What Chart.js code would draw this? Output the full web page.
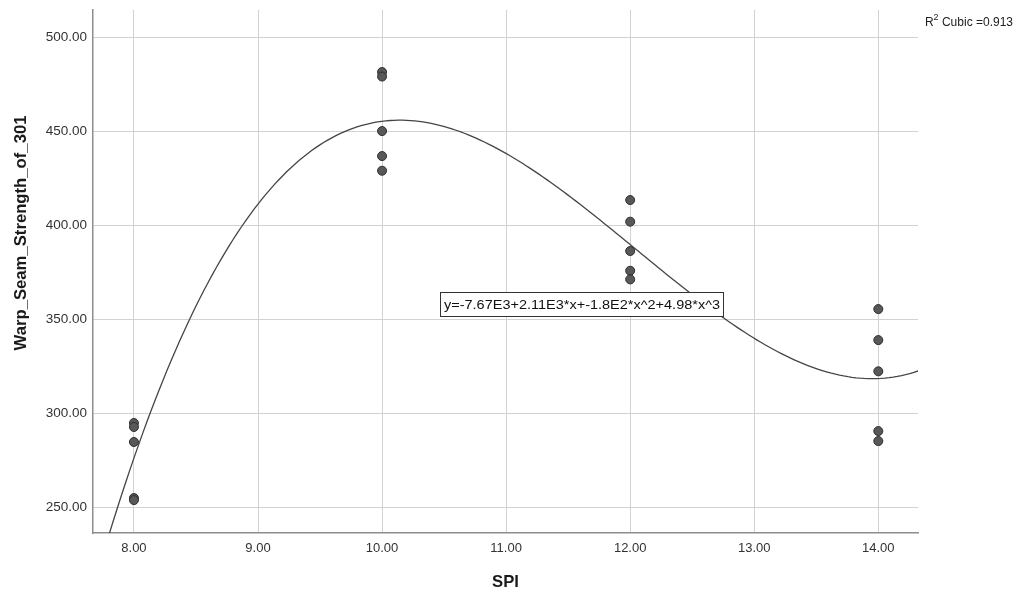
<!DOCTYPE html>
<html>
<head>
<meta charset="utf-8">
<script src="https://cdn.jsdelivr.net/npm/chart.js@4.4.1/dist/chart.umd.min.js"></script>
<style>
  html, body { margin: 0; padding: 0; background: #fff; }
  #wrap { position: relative; width: 1020px; height: 597px; }
</style>
</head>
<body>
<div id="wrap"><canvas id="fitChart" width="1020" height="597"></canvas></div>
<script>
/* SPI vs warp seam strength — scatter with cubic fit */

const xTicks = [8, 9, 10, 11, 12, 13, 14];
const yTicks = [250, 300, 350, 400, 450, 500];

const spi = [8, 8, 8, 8, 8, 10, 10, 10, 10, 10, 12, 12, 12, 12, 12, 14, 14, 14, 14, 14];
const strength = [
  294.7, 292.6, 284.6, 254.8, 253.7,
  481.4, 479.0, 450.0, 436.7, 428.9,
  413.3, 401.8, 386.2, 375.7, 371.1,
  355.3, 338.8, 322.2, 290.4, 285.1,
];

const EQ_TEXT = "y=-7.67E3+2.11E3*x+-1.8E2*x^2+4.98*x^3";
const FONT = "'Liberation Sans', Arial, sans-serif";

// least squares cubic through the observed points (what the fit line shows)
function cubicFit(xs, ys) {
  const c = 11;
  const n = 4;
  const A = Array.from({ length: n }, () => new Array(n + 1).fill(0));
  xs.forEach((x0, k) => {
    const x = x0 - c;
    const pw = [1, x, x * x, x * x * x];
    for (let i = 0; i < n; i++) {
      for (let j = 0; j < n; j++) A[i][j] += pw[i] * pw[j];
      A[i][n] += pw[i] * ys[k];
    }
  });
  for (let i = 0; i < n; i++) {
    let p = i;
    for (let r = i + 1; r < n; r++) if (Math.abs(A[r][i]) > Math.abs(A[p][i])) p = r;
    [A[i], A[p]] = [A[p], A[i]];
    for (let r = 0; r < n; r++) {
      if (r === i) continue;
      const f = A[r][i] / A[i][i];
      for (let j = i; j <= n; j++) A[r][j] -= f * A[i][j];
    }
  }
  const b = A.map((row, i) => row[n] / row[i]);
  return (x) => {
    const t = x - c;
    return b[0] + b[1] * t + b[2] * t * t + b[3] * t * t * t;
  };
}

const X_MIN = 7.67, X_MAX = 14.32;
const Y_MIN = 236.2, Y_MAX = 514.4;

const fit = cubicFit(spi, strength);
const fitLine = [];
for (let i = 0; i <= 200; i++) {
  const x = X_MIN + (X_MAX - X_MIN) * i / 200;
  fitLine.push({ x, y: fit(x) });
}

const decorations = {
  id: "decorations",
  afterDatasetsDraw(chart) {
    const { ctx, scales } = chart;
    ctx.save();

    // equation label (SPSS draws it a bit wide, so stretch to its box)
    ctx.font = "13px " + FONT;
    const natural = ctx.measureText(EQ_TEXT).width;
    const textW = 276;
    const bx = Math.round(scales.x.getPixelForValue(10.47)) + 0.5;
    const cy = scales.y.getPixelForValue(358);
    const by = Math.round(cy - 12) + 0.5;
    ctx.fillStyle = "#fff";
    ctx.fillRect(bx, by, textW + 7, 24);
    ctx.strokeStyle = "#333";
    ctx.lineWidth = 1;
    ctx.strokeRect(bx, by, textW + 7, 24);
    ctx.fillStyle = "#111";
    ctx.textBaseline = "middle";
    ctx.save();
    ctx.translate(bx + 3.5, cy + 1);
    ctx.scale(textW / natural, 1);
    ctx.fillText(EQ_TEXT, 0, 0);
    ctx.restore();

    // axis titles
    ctx.font = "bold 16.7px " + FONT;
    ctx.fillStyle = "#1a1a1a";
    ctx.textAlign = "center";
    ctx.fillText("SPI", (chart.chartArea.left + chart.chartArea.right) / 2, 582);
    ctx.translate(21, 233);
    ctx.rotate(-Math.PI / 2);
    ctx.fillText("Warp_Seam_Strength_of_301", 0, 0);
    ctx.restore();

    // R squared note, right aligned to the page edge
    ctx.save();
    ctx.fillStyle = "#222";
    ctx.textBaseline = "alphabetic";
    ctx.textAlign = "left";
    ctx.font = "12px " + FONT;
    const tail = " Cubic =0.913";
    const tailX = 1013 - ctx.measureText(tail).width;
    ctx.fillText(tail, tailX, 26);
    ctx.font = "9px " + FONT;
    const supW = ctx.measureText("2").width;
    ctx.fillText("2", tailX - supW, 20);
    ctx.font = "12px " + FONT;
    ctx.fillText("R", tailX - supW - ctx.measureText("R").width, 26);
    ctx.restore();
  },
};

new Chart(document.getElementById("fitChart"), {
  type: "scatter",
  data: {
    datasets: [
      {
        label: "Observed",
        data: spi.map((x, i) => ({ x, y: strength[i] })),
        pointRadius: 4.5,
        pointHoverRadius: 4.5,
        backgroundColor: "#585858",
        borderColor: "#2e2e2e",
        borderWidth: 1,
      },
      {
        label: "Cubic",
        type: "line",
        data: fitLine,
        showLine: true,
        pointRadius: 0,
        borderColor: "#454545",
        borderWidth: 1.3,
        tension: 0,
        fill: false,
      },
    ],
  },
  options: {
    responsive: false,
    animation: false,
    events: [],
    layout: { padding: { top: 10, right: 102, left: 0, bottom: 0 } },
    plugins: { legend: { display: false }, tooltip: { enabled: false } },
    scales: {
      x: {
        type: "linear",
        min: X_MIN,
        max: X_MAX,
        afterBuildTicks: (s) => { s.ticks = xTicks.map((v) => ({ value: v })); },
        afterFit: (s) => { s.height = 64; s.paddingLeft = 0; s.paddingRight = 0; },
        grid: { color: "#d2d2d2", lineWidth: 1, drawTicks: false },
        border: { color: "#8c8c8c", width: 1.5 },
        ticks: {
          padding: 8,
          color: "#333",
          font: { family: FONT, size: 13 },
          callback: (v) => Number(v).toFixed(2),
        },
      },
      y: {
        type: "linear",
        min: Y_MIN,
        max: Y_MAX,
        afterBuildTicks: (s) => { s.ticks = yTicks.map((v) => ({ value: v })); },
        afterFit: (s) => { s.width = 93; s.paddingTop = 0; s.paddingBottom = 0; },
        grid: { color: "#d2d2d2", lineWidth: 1, drawTicks: false },
        border: { color: "#8c8c8c", width: 1.5 },
        ticks: {
          padding: 6,
          color: "#333",
          font: { family: FONT, size: 13.5 },
          callback: (v) => Number(v).toFixed(2),
        },
      },
    },
  },
  plugins: [decorations],
});
</script>
</body>
</html>
